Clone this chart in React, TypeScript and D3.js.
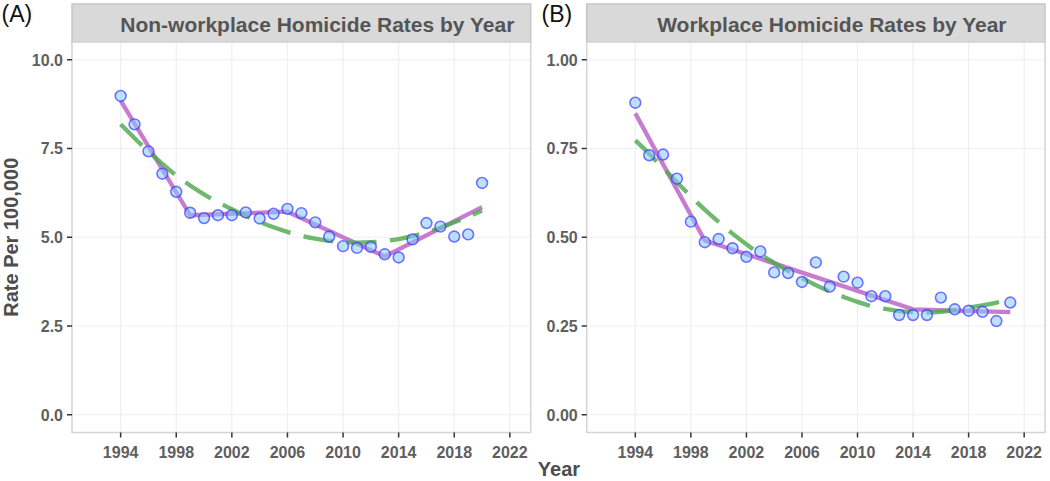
import * as d3 from "d3";

// Non-workplace (A), 1994-2020
const yearsA = [1994, 1995, 1996, 1997, 1998, 1999, 2000, 2001, 2002, 2003, 2004, 2005, 2006, 2007, 2008, 2009, 2010, 2011, 2012, 2013, 2014, 2015, 2016, 2017, 2018, 2019, 2020];
const ratesA = [8.98, 8.18, 7.42, 6.79, 6.28, 5.69, 5.54, 5.62, 5.62, 5.7, 5.53, 5.66, 5.8, 5.68, 5.42, 5.02, 4.75, 4.7, 4.73, 4.52, 4.43, 4.94, 5.4, 5.3, 5.02, 5.08, 6.53];
const fitA = [8.18, 7.79, 7.42, 7.07, 6.74, 6.46, 6.21, 5.99, 5.79, 5.6, 5.43, 5.28, 5.15, 5.04, 4.96, 4.9, 4.86, 4.85, 4.86, 4.89, 4.95, 5.03, 5.14, 5.27, 5.42, 5.58, 5.75];
const joinYearsA = [1994, 1999, 2006, 2013, 2020];
const joinValuesA = [8.85, 5.62, 5.72, 4.46, 5.85];

// Workplace (B), 1994-2021
const yearsB = [1994, 1995, 1996, 1997, 1998, 1999, 2000, 2001, 2002, 2003, 2004, 2005, 2006, 2007, 2008, 2009, 2010, 2011, 2012, 2013, 2014, 2015, 2016, 2017, 2018, 2019, 2020, 2021];
const ratesB = [0.879, 0.731, 0.733, 0.665, 0.544, 0.486, 0.495, 0.469, 0.445, 0.46, 0.401, 0.399, 0.374, 0.429, 0.361, 0.389, 0.372, 0.334, 0.334, 0.281, 0.281, 0.281, 0.33, 0.297, 0.293, 0.29, 0.264, 0.316];
const fitB = [0.773, 0.735, 0.695, 0.655, 0.615, 0.578, 0.543, 0.51, 0.48, 0.452, 0.428, 0.405, 0.385, 0.365, 0.347, 0.332, 0.318, 0.306, 0.298, 0.292, 0.289, 0.288, 0.29, 0.295, 0.302, 0.308, 0.316, 0.325];
const joinYearsB = [1994, 1999, 2014, 2021];
const joinValuesB = [0.849, 0.491, 0.297, 0.289];

const xTicks = [1994, 1998, 2002, 2006, 2010, 2014, 2018, 2022];
const yTicksA = [0, 2.5, 5, 7.5, 10];
const yTicksB = [0, 0.25, 0.5, 0.75, 1];

const FONT = "'Liberation Sans', Arial, Helvetica, sans-serif";
const TOP = 42;
const BOTTOM = 432.5;
const STRIP_TOP = 4;

type PanelProps = {
	left: number;
	right: number;
	title: string;
	tag: string;
	tagX: number;
	years: number[];
	rates: number[];
	fit: number[];
	joinYears: number[];
	joinValues: number[];
	yTicks: number[];
	yMax: number;
	digits: number;
};

function Panel(p: PanelProps) {
	const x = d3.scaleLinear().domain([1990.5, 2023.5]).range([p.left, p.right]);
	const pad = p.yMax * 0.05;
	const y = d3.scaleLinear().domain([-pad, p.yMax + pad]).range([BOTTOM, TOP]);
	const line = d3
		.line<[number, number]>()
		.x((d) => x(d[0]))
		.y((d) => y(d[1]));
	const smooth = line.curve(d3.curveMonotoneX);
	const joinPath = d3
		.line<[number, number]>()
		.x((d) => x(d[0]))
		.y((d) => y(d[1]))(p.joinYears.map((yr, i) => [yr, p.joinValues[i]]));
	const fitPath = smooth(p.years.map((yr, i) => [yr, p.fit[i]]));
	const mid = (p.left + p.right) / 2;

	return (
		<g>
			<text x={p.tagX} y={22} fontSize={23} fontFamily={FONT} fill="#111">
				{p.tag}
			</text>
			{/* strip */}
			<rect x={p.left} y={STRIP_TOP} width={p.right - p.left} height={TOP - STRIP_TOP} fill="#d9d9d9" stroke="#c6c6c6" strokeWidth={1.5} />
			<text x={mid + 16} y={31.5} textAnchor="middle" fontSize={21} fontWeight="bold" fontFamily={FONT} fill="#555">
				{p.title}
			</text>
			{/* panel */}
			<rect x={p.left} y={TOP} width={p.right - p.left} height={BOTTOM - TOP} fill="#fff" />
			{xTicks.map((t) => (
				<line key={"gx" + t} x1={x(t)} x2={x(t)} y1={TOP} y2={BOTTOM} stroke="#efefef" strokeWidth={1.2} />
			))}
			{p.yTicks.map((t) => (
				<line key={"gy" + t} x1={p.left} x2={p.right} y1={y(t)} y2={y(t)} stroke="#efefef" strokeWidth={1.2} />
			))}
			<path d={joinPath ?? ""} fill="none" stroke="#c67ccf" strokeWidth={4.3} strokeLinejoin="round" />
			<path d={fitPath ?? ""} fill="none" stroke="#4eaa4e" strokeOpacity={0.82} strokeWidth={4.3} strokeDasharray="30 13.5" />
			{p.years.map((yr, i) => (
				<circle key={yr} cx={x(yr)} cy={y(p.rates[i])} r={5.4} fill="#87c8ff" fillOpacity={0.55} stroke="#3535ff" strokeOpacity={0.68} strokeWidth={1.6} />
			))}
			<rect x={p.left} y={TOP} width={p.right - p.left} height={BOTTOM - TOP} fill="none" stroke="#d4d4d4" strokeWidth={1.5} />
			{/* axes */}
			{xTicks.map((t) => (
				<g key={"tx" + t}>
					<line x1={x(t)} x2={x(t)} y1={BOTTOM} y2={BOTTOM + 5} stroke="#333" strokeWidth={1.5} />
					<text x={x(t)} y={457.5} textAnchor="middle" fontSize={16} fontWeight="bold" fontFamily={FONT} fill="#5e5e5e">
						{t}
					</text>
				</g>
			))}
			{p.yTicks.map((t) => (
				<g key={"ty" + t}>
					<line x1={p.left - 5} x2={p.left} y1={y(t)} y2={y(t)} stroke="#333" strokeWidth={1.5} />
					<text x={p.left - 9} y={y(t)} dy="0.36em" textAnchor="end" fontSize={16} fontWeight="bold" fontFamily={FONT} fill="#5e5e5e">
						{t.toFixed(p.digits)}
					</text>
				</g>
			))}
		</g>
	);
}

export default function App() {
	return (
		<div style={{ position: "absolute", left: 0, top: 0 }}>
			<svg width={1050} height={481} style={{ display: "block", background: "#fff" }}>
				<Panel
					left={72}
					right={530.7}
					title="Non-workplace Homicide Rates by Year"
					tag="(A)"
					tagX={1.5}
					years={yearsA}
					rates={ratesA}
					fit={fitA}
					joinYears={joinYearsA}
					joinValues={joinValuesA}
					yTicks={yTicksA}
					yMax={10}
					digits={1}
				/>
				<Panel
					left={586.7}
					right={1045}
					title="Workplace Homicide Rates by Year"
					tag="(B)"
					tagX={541.5}
					years={yearsB}
					rates={ratesB}
					fit={fitB}
					joinYears={joinYearsB}
					joinValues={joinValuesB}
					yTicks={yTicksB}
					yMax={1}
					digits={2}
				/>
				<text
					transform={`translate(18, ${(TOP + BOTTOM) / 2}) rotate(-90)`}
					textAnchor="middle"
					fontSize={20}
					fontWeight="bold"
					fontFamily={FONT}
					fill="#4d4d4d"
				>
					Rate Per 100,000
				</text>
				<text x={559} y={476} textAnchor="middle" fontSize={20} fontWeight="bold" fontFamily={FONT} fill="#4d4d4d">
					Year
				</text>
			</svg>
		</div>
	);
}
